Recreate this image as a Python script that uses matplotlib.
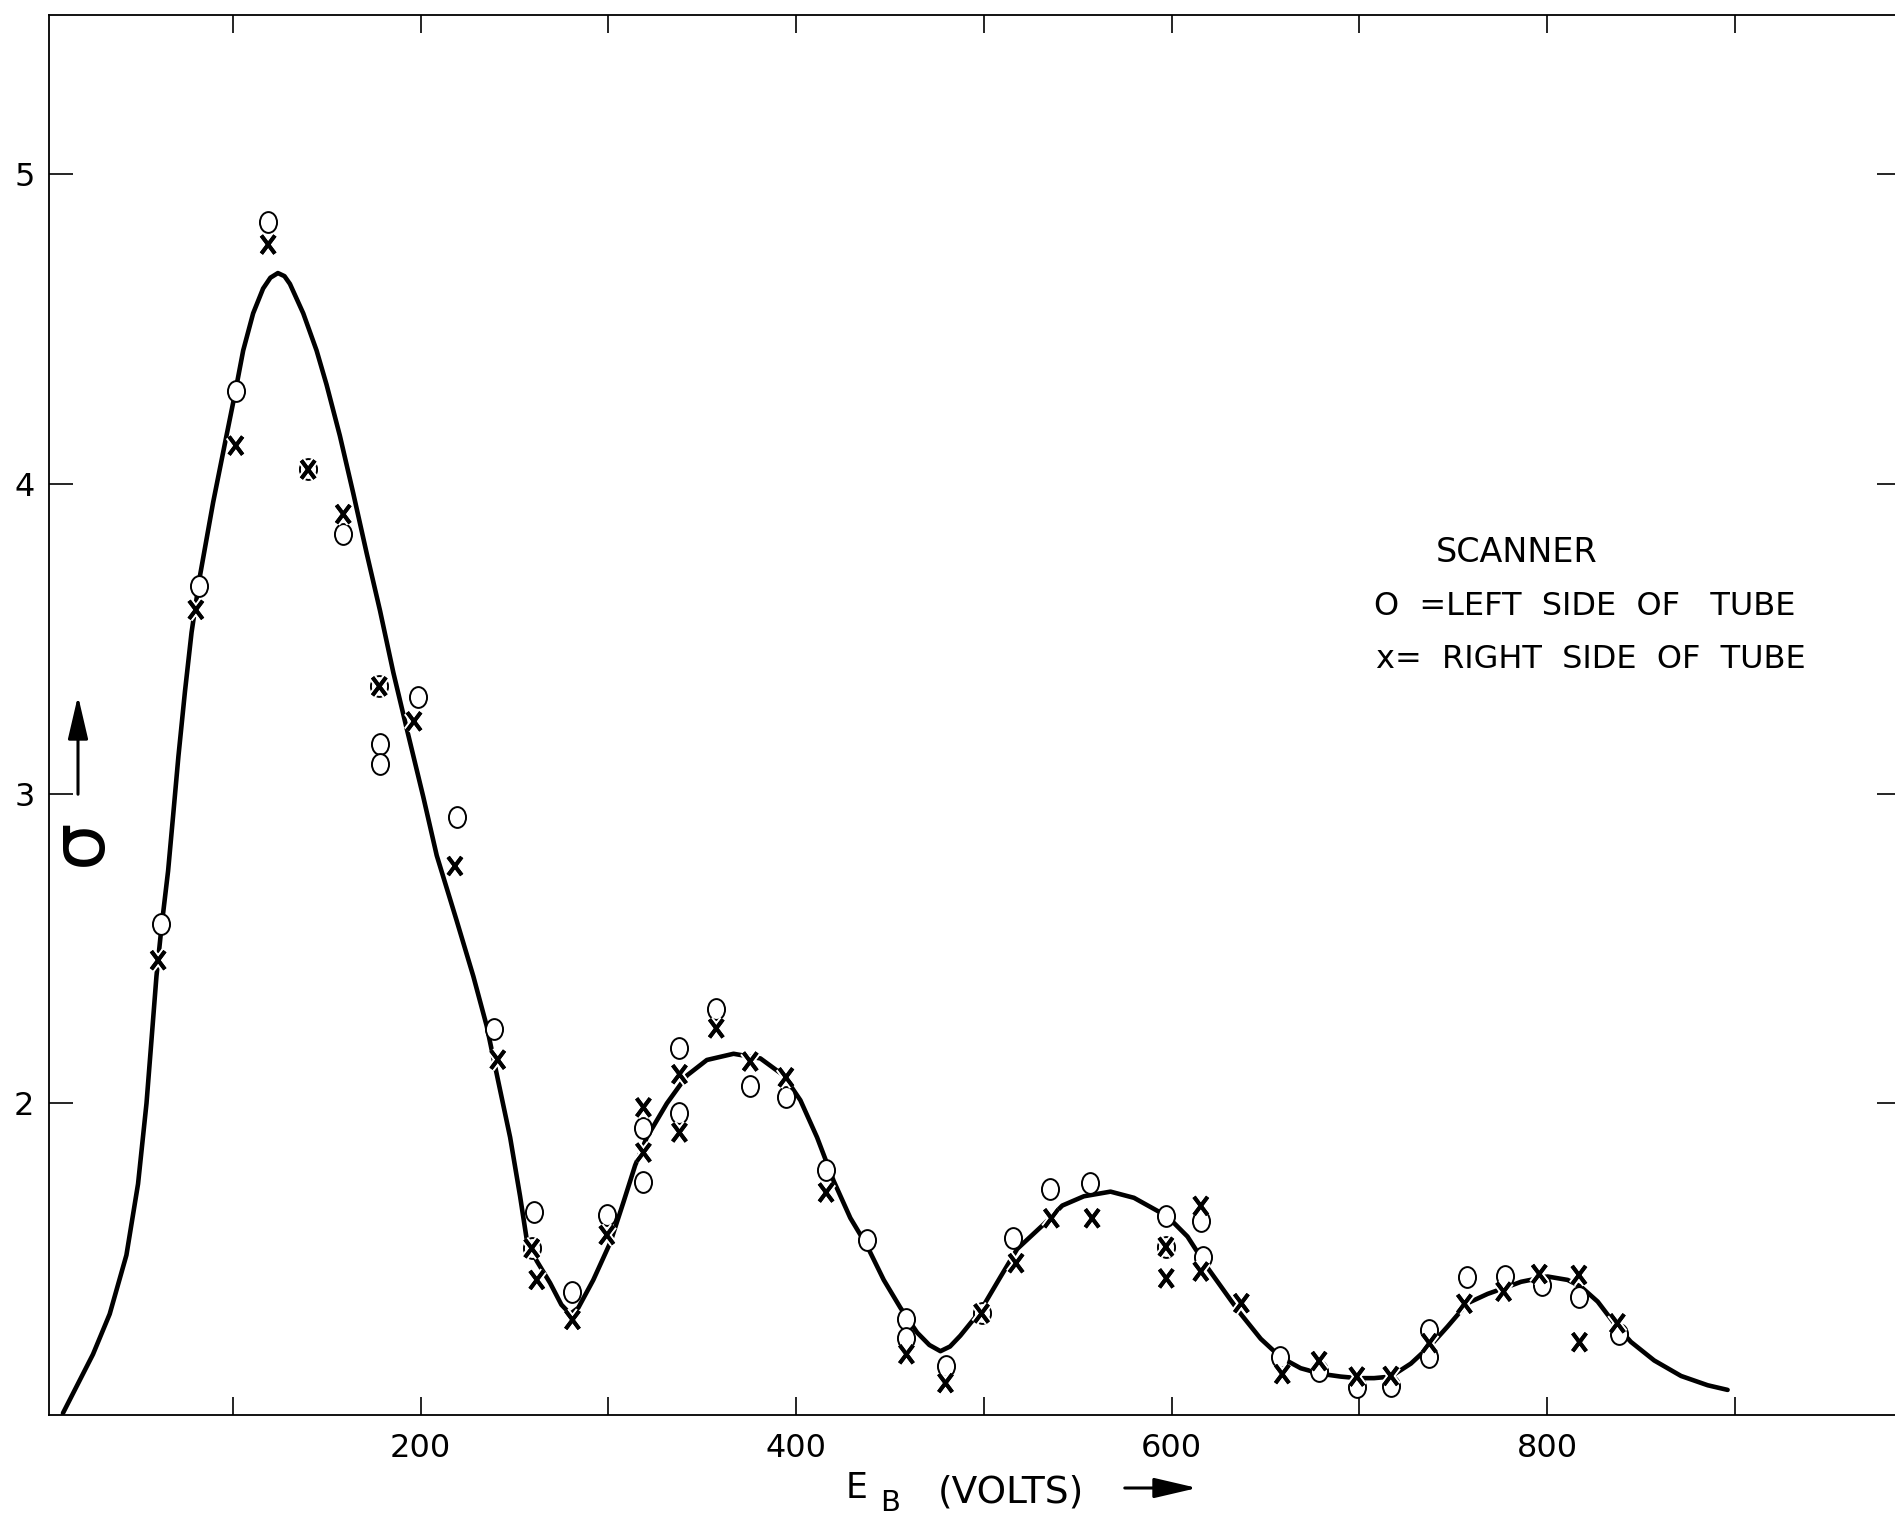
import matplotlib
matplotlib.use("Agg")
import matplotlib.pyplot as plt
import matplotlib.patheffects as pe
from matplotlib.path import Path
import numpy as np

# ---------------- data ----------------
circle_x = [61.5, 81.9, 101.6, 118.8, 140.1, 158.8, 178.0, 178.4, 178.4, 198.8,
            219.2, 239.1, 260.6, 259.2, 280.9, 299.2, 318.7, 318.7, 337.9, 337.9,
            357.5, 375.6, 394.6, 416.0, 437.8, 458.8, 458.8, 479.6, 498.8, 515.7,
            535.5, 556.4, 597.2, 597.0, 615.6, 616.8, 657.8, 678.6, 698.7, 716.8,
            737.3, 737.3, 757.2, 777.6, 797.4, 817.3, 838.4]
circle_y = [2.58, 3.67, 4.30, 4.845, 4.046, 3.838, 3.346, 3.16, 3.096, 3.31,
            2.925, 2.239, 1.65, 1.532, 1.392, 1.638, 1.922, 1.745, 2.178, 1.968,
            2.304, 2.056, 2.020, 1.785, 1.559, 1.303, 1.244, 1.152, 1.322, 1.565,
            1.723, 1.744, 1.637, 1.537, 1.621, 1.505, 1.182, 1.137, 1.084, 1.086,
            1.269, 1.18, 1.441, 1.444, 1.414, 1.374, 1.255]

cross_x = [60.2, 80.3, 101.6, 118.8, 140.1, 158.8, 178.0, 196.5, 218.3, 241.1,
           259.2, 261.9, 280.9, 299.2, 318.7, 318.7, 337.9, 337.9, 357.5, 375.6,
           394.6, 416.0, 458.8, 479.6, 498.8, 517.2, 536.0, 557.7, 597.0, 597.2,
           615.6, 615.6, 637.2, 659.0, 678.6, 698.7, 716.8, 737.3, 756.0, 776.9,
           795.9, 817.0, 817.3, 837.5]
cross_y = [2.462, 3.593, 4.123, 4.772, 4.046, 3.902, 3.346, 3.233, 2.766, 2.141,
           1.532, 1.43, 1.301, 1.575, 1.987, 1.841, 2.094, 1.906, 2.242, 2.135,
           2.084, 1.712, 1.190, 1.097, 1.322, 1.484, 1.629, 1.629, 1.537, 1.435,
           1.669, 1.457, 1.355, 1.126, 1.168, 1.118, 1.12, 1.226, 1.353, 1.392,
           1.449, 1.446, 1.229, 1.29]

curve_x = [9.5, 25.5, 34.4, 43.3, 49.5, 54.0, 56.6, 59.3, 62.0, 65.5, 68.2, 71.0,
           74.5, 78.0, 82.4, 89.5, 96.6, 101.1, 105.5, 110.8, 116.1, 120.0, 124.0,
           127.5, 130.4, 137.5, 144.6, 149.9, 157.0, 164.1, 171.3, 178.4, 185.5,
           192.6, 201.4, 208.6, 219.2, 228.1, 235.2, 241.4, 247.7, 253.0, 256.8,
           262.0, 269.0, 275.0, 279.7, 284.0, 292.0, 301.0, 308.0, 314.3, 320.5,
           331.2, 341.9, 352.5, 366.7, 381.0, 393.4, 402.3, 411.2, 420.0, 428.9,
           437.8, 446.7, 455.6, 464.5, 471.0, 476.9, 482.0, 487.5, 498.2, 508.9,
           517.8, 532.0, 541.8, 553.3, 567.5, 580.0, 588.9, 597.8, 608.5, 619.1,
           631.5, 636.9, 647.5, 658.2, 668.8, 679.5, 690.1, 699.0, 707.9, 716.8,
           727.5, 738.2, 747.1, 757.7, 768.4, 779.1, 786.2, 800.3, 811.0, 818.1,
           827.0, 835.8, 844.7, 857.1, 871.4, 885.6, 896.2]
curve_y = [1.00, 1.19, 1.32, 1.51, 1.74, 2.00, 2.20, 2.41, 2.57, 2.75, 2.93, 3.12,
           3.33, 3.52, 3.70, 3.94, 4.155, 4.29, 4.43, 4.55, 4.63, 4.665, 4.68,
           4.67, 4.645, 4.55, 4.43, 4.32, 4.155, 3.97, 3.775, 3.59, 3.39,
           3.21, 2.99, 2.80, 2.59, 2.41, 2.25, 2.07, 1.89, 1.70, 1.55,
           1.49, 1.42, 1.35, 1.32, 1.34, 1.43, 1.55, 1.68, 1.80, 1.89,
           2.00, 2.09, 2.14, 2.16, 2.145, 2.09, 2.01, 1.89, 1.75, 1.63,
           1.54, 1.43, 1.34, 1.26, 1.22, 1.20, 1.215, 1.25, 1.33, 1.44,
           1.53, 1.61, 1.67, 1.70, 1.715, 1.695, 1.665, 1.635, 1.57, 1.47,
           1.365, 1.32, 1.24, 1.18, 1.145, 1.127, 1.118, 1.113, 1.113, 1.118,
           1.16, 1.22, 1.28, 1.355, 1.385, 1.408, 1.424, 1.441, 1.43, 1.408,
           1.36, 1.29, 1.23, 1.17, 1.12, 1.09, 1.075]

xtick_vals = [100, 200, 300, 400, 500, 600, 700, 800, 900]
xtick_labels = ["", "200", "", "400", "", "600", "", "800", ""]
ytick_vals = [2, 3, 4, 5]
ytick_labels = ["2", "3", "4", "5"]

legend_title = "SCANNER"
legend_line1 = "O  =LEFT  SIDE  OF   TUBE"
legend_line2 = "x=  RIGHT  SIDE  OF  TUBE"

# ---------------- figure ----------------
W, H = 1895, 1519
plt.rcParams["font.family"] = ["DejaVu Sans"]
fig = plt.figure(figsize=(W / 100, H / 100), dpi=100)
fig.patch.set_facecolor("white")

def fx(px):
    return px / W

def fy(py):
    return 1 - py / H

ax_left, ax_right, ax_top, ax_bot = 48.5, 1900.7, 15, 1415
ax = fig.add_axes([fx(ax_left), fy(ax_bot), (ax_right - ax_left) / W, (ax_bot - ax_top) / H])
ax.set_xlim(1.8, 988.4)
ax.set_ylim(0.994, 5.513)
ax.set_facecolor("white")

# curve
ax.plot(curve_x, curve_y, color="black", lw=3.3, solid_capstyle="round",
        solid_joinstyle="round", zorder=2)

# elliptical "O" marker (taller than wide) and tall "X" marker
circ = Path.unit_circle()
oval = Path(circ.vertices * np.array([0.82, 1.0]), circ.codes)
tall_x = Path([(-0.75, -1.0), (0.75, 1.0), (-0.75, 1.0), (0.75, -1.0)],
              [Path.MOVETO, Path.LINETO, Path.MOVETO, Path.LINETO])

ax.plot(circle_x, circle_y, ls="none", marker=oval, ms=15, mfc="white",
        mec="black", mew=1.4, zorder=3)
ax.plot(cross_x, cross_y, ls="none", marker=tall_x, ms=13, mew=2.8, mfc="none",
        mec="black", zorder=4,
        path_effects=[pe.withStroke(linewidth=5.8, foreground="white"), pe.Normal()])

# axes styling
for s in ax.spines.values():
    s.set_linewidth(1.3)
    s.set_color("black")

ax.set_xticks(xtick_vals)
ax.set_xticklabels(xtick_labels)
ax.set_yticks(ytick_vals)
ax.set_yticklabels(ytick_labels)
ax.tick_params(axis="x", direction="in", length=13, width=1.2, top=True,
               labeltop=False, pad=13, labelsize=23, colors="black")
ax.tick_params(axis="y", direction="in", length=17, width=1.2, right=True,
               labelright=False, pad=10, labelsize=23, colors="black")

# legend text
fig.text(fx(1517), fy(553), legend_title, fontsize=24, ha="center", va="center")
fig.text(fx(1374), fy(606), legend_line1, fontsize=23, ha="left", va="center")
fig.text(fx(1376), fy(659), legend_line2, fontsize=23, ha="left", va="center")

# x-axis label: E_B (VOLTS) ->
fig.text(fx(846), fy(1488), "E", fontsize=25, ha="left", va="center")
fig.text(fx(880), fy(1503), "B", fontsize=21, ha="left", va="center")
fig.text(fx(938), fy(1492), "(VOLTS)", fontsize=27, ha="left", va="center")
fig.add_artist(matplotlib.patches.FancyArrowPatch(
    (fx(1122), fy(1488)), (fx(1200), fy(1488)), transform=fig.transFigure,
    arrowstyle="-|>,head_length=1.2,head_width=0.28", mutation_scale=22,
    lw=2.2, color="black"))

# y-axis label: sigma with upward arrow
fig.text(fx(80), fy(842), "σ", fontsize=54, rotation=90, ha="center", va="center")
fig.add_artist(matplotlib.patches.FancyArrowPatch(
    (fx(78), fy(797)), (fx(78), fy(693)), transform=fig.transFigure,
    arrowstyle="-|>,head_length=1.2,head_width=0.28", mutation_scale=22,
    lw=2.2, color="black"))

fig.savefig("out.png", dpi=100, facecolor="white")
